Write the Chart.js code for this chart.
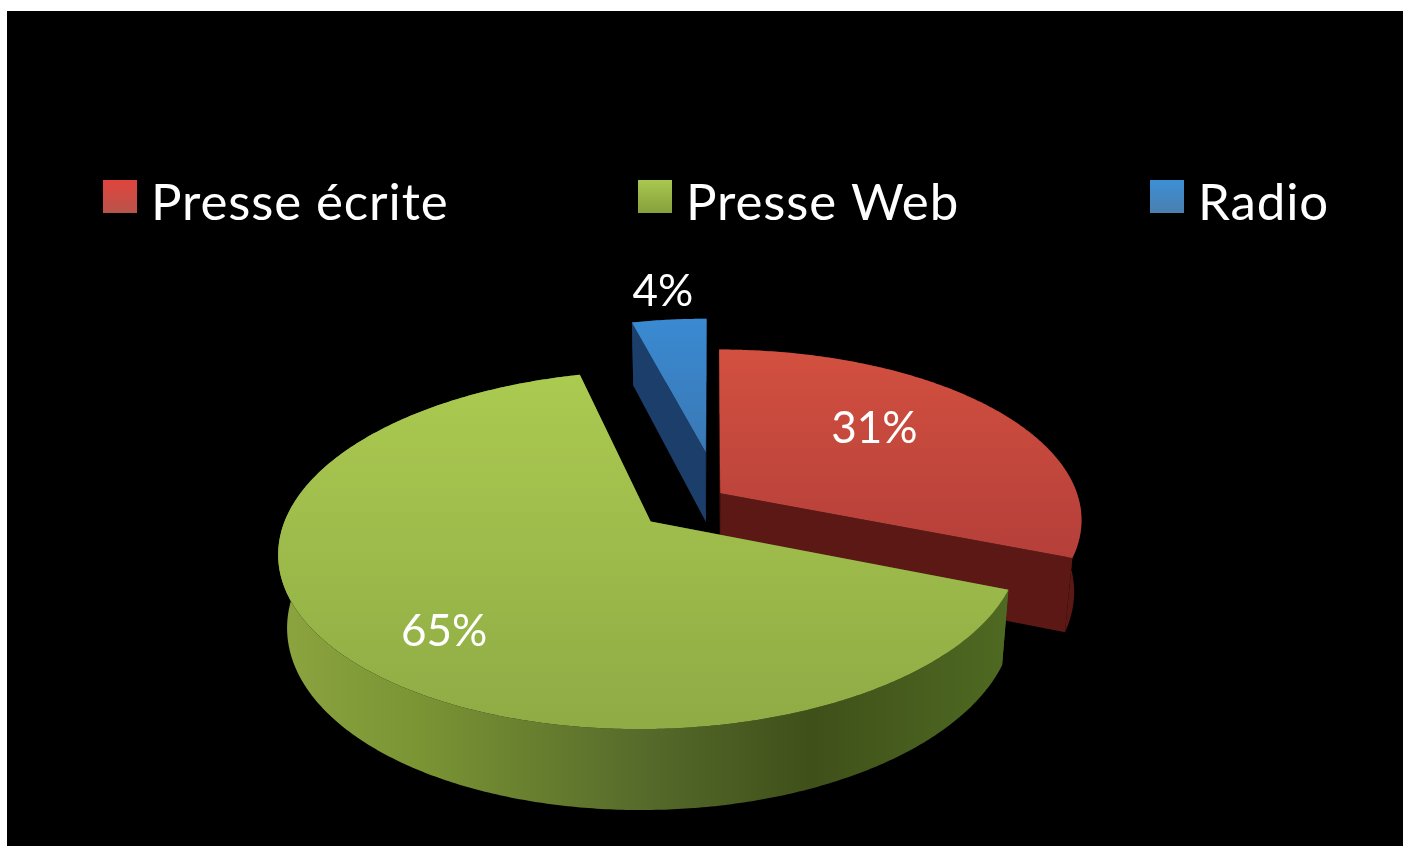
<!DOCTYPE html>
<html>
<head>
<meta charset="utf-8">
<title>Presse</title>
<script src="https://cdn.jsdelivr.net/npm/chart.js"></script>
<style>
    html, body { margin: 0; background: #fff; overflow: hidden; }
    #wrap { position: absolute; left: 7px; top: 11px; width: 1396px; height: 835px; background: #000; }
</style>
</head>
<body>
<div id="wrap"><canvas id="pie" width="1396" height="835"></canvas></div>
<script>
const categories = ['Presse écrite', 'Presse Web', 'Radio'];
const values = [31, 65, 4];

// where each exploded slice sits on the pie plane, in radius units
const sliceShift = [[0.023, 0.04], [-0.1675, -0.1258], [-0.018, 0.2955]];
// data label anchors on the same plane
const labelSpot = [[0.484, 0.455], [-0.665, -0.70], [-0.169, 1.53]];

const topColors = [['#d2503f', '#b53f3a'], ['#abca50', '#8fab45'], ['#3a8ad2', '#3a78b4']];
const wallColors = ['#5c1814', null, '#1b3e6a'];
const legendColors = [['#e0443e', '#b8544a'], ['#a9c850', '#86a03c'], ['#3d8fd6', '#4a7fb0']];
const legendLeft = [96, 631, 1143];

// camera: plane (u, v, z) to canvas pixels
const view = { x: 705, y: 489, fx: 359, fy: 168, depth: 0.155, drop: 73, zShrink: 0.02 };
const project = (u, v, z) => {
    const w = 1 + view.depth * v + view.zShrink * z;
    return [view.x + view.fx * u / w, view.y + (-view.fy * v + view.drop * z) / w];
};

const tracePath = (ctx, pts) => {
    ctx.beginPath();
    pts.forEach((p, i) => i ? ctx.lineTo(p[0], p[1]) : ctx.moveTo(p[0], p[1]));
    ctx.closePath();
};

const pie3d = {
    id: 'pie3d',
    beforeDatasetsDraw(chart) {
        const ctx = chart.ctx;
        const arcs = chart.getDatasetMeta(0).data;
        // back slices first, the green one lies over the red wall
        [2, 0, 1].forEach(i => {
            const { startAngle, endAngle } = arcs[i];
            const [su, sv] = sliceShift[i];
            const rim = [];
            const steps = Math.ceil((endAngle - startAngle) / 0.01);
            for (let k = 0; k <= steps; k++) {
                const a = startAngle + (endAngle - startAngle) * k / steps;
                rim.push([su + Math.cos(a), sv - Math.sin(a)]);
            }
            let wall = wallColors[i];
            if (!wall) {
                wall = ctx.createLinearGradient(285, 0, 1005, 0);
                wall.addColorStop(0, '#8aa33f');
                wall.addColorStop(0.18, '#7a9434');
                wall.addColorStop(0.5, '#55692a');
                wall.addColorStop(0.72, '#3f5019');
                wall.addColorStop(1, '#4f6a22');
            }
            ctx.fillStyle = wall;
            // radial walls
            [rim[0], rim[rim.length - 1]].forEach(e => {
                tracePath(ctx, [project(su, sv, 0), project(e[0], e[1], 0), project(e[0], e[1], 1), project(su, sv, 1)]);
                ctx.fill();
            });
            // outer wall
            tracePath(ctx, rim.map(p => project(p[0], p[1], 0)).concat(rim.slice().reverse().map(p => project(p[0], p[1], 1))));
            ctx.fill();
            // top face
            const face = [project(su, sv, 0)].concat(rim.map(p => project(p[0], p[1], 0)));
            const ys = face.map(p => p[1]);
            const g = ctx.createLinearGradient(0, Math.min(...ys), 0, Math.max(...ys));
            g.addColorStop(0, topColors[i][0]);
            g.addColorStop(1, topColors[i][1]);
            tracePath(ctx, face);
            ctx.fillStyle = g;
            ctx.fill();
        });
        // data labels
        ctx.font = '44px Lato';
        ctx.fillStyle = '#fff';
        ctx.textAlign = 'center';
        ctx.textBaseline = 'middle';
        values.forEach((v, i) => {
            const p = project(labelSpot[i][0], labelSpot[i][1], 0);
            ctx.fillText(v + '%', p[0], p[1]);
        });
        // legend, the gaps are wider than the built-in one can lay out
        ctx.font = '51px Lato';
        ctx.letterSpacing = '0.9px';
        ctx.textAlign = 'left';
        ctx.textBaseline = 'alphabetic';
        categories.forEach((name, i) => {
            const g = ctx.createLinearGradient(0, 169, 0, 202);
            g.addColorStop(0, legendColors[i][0]);
            g.addColorStop(1, legendColors[i][1]);
            ctx.fillStyle = g;
            ctx.fillRect(legendLeft[i], 169, 34, 33);
            ctx.fillStyle = '#fff';
            ctx.fillText(name, legendLeft[i] + 48, 209);
        });
        ctx.letterSpacing = '0px';
        return false;
    }
};

new Chart(document.getElementById('pie'), {
    type: 'pie',
    data: {
        labels: categories,
        datasets: [{ data: values, backgroundColor: legendColors.map(c => c[0]), borderWidth: 0 }]
    },
    options: {
        responsive: false,
        animation: false,
        plugins: {
            tooltip: { enabled: false },
            legend: { display: false }
        }
    },
    plugins: [pie3d]
});
</script>
</body>
</html>
